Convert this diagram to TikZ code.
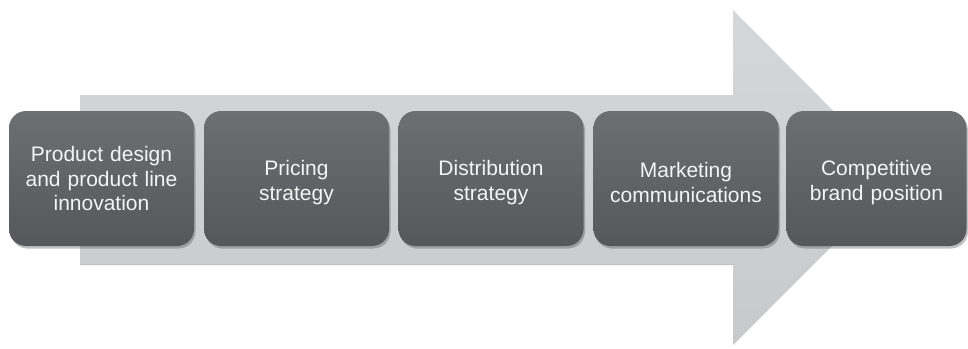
\documentclass[tikz,border=0pt]{standalone}
\usepackage{fontspec}
\setmainfont{Liberation Sans}
\usetikzlibrary{shadows}
\definecolor{arrowtop}{RGB}{214,215,217}
\definecolor{arrowbot}{RGB}{200,201,203}
\definecolor{boxtop}{RGB}{110,111,115}
\definecolor{boxbot}{RGB}{86,87,91}
\definecolor{txt}{RGB}{244,244,244}
\newcommand{\lowered}[2]{\raisebox{-4pt}[\height][\depth]{\parbox{#1}{\centering #2}}}
\tikzset{
  stagebox/.style={rounded corners=17pt, minimum height=135pt, inner sep=0pt,
    top color=boxtop, bottom color=boxbot, draw=none,
    drop shadow={opacity=0.35, shadow xshift=1.5pt, shadow yshift=-2.5pt, fill=black!70},
    text=txt, align=center, font=\fontsize{21}{24.5}\selectfont},
  bigarrow/.style={top color=arrowtop, bottom color=arrowbot, draw=none}
}
\begin{document}
\begin{tikzpicture}[x=1pt,y=-1pt]
\useasboundingbox (0,0) rectangle (968,348);
\fill[white] (0,0) rectangle (968,348);
\path[bigarrow] (80,95) -- (733,95) -- (733,10) -- (900,178) -- (733,345) -- (733,265) -- (80,265) -- cycle;
\draw[black!25, line width=1pt] (80,264) -- (733,264);
\node[stagebox, minimum width=185pt, text width=180pt] (b1) at (101.5,178.5) {Product design\\and product line\\innovation};
\node[stagebox, minimum width=185pt, text width=180pt] (b2) at (296.5,178.5) {\lowered{180pt}{Pricing\\strategy}};
\node[stagebox, minimum width=185pt, text width=180pt] (b3) at (491,178.5) {\lowered{180pt}{Distribution\\strategy}};
\node[stagebox, minimum width=185pt, text width=180pt] (b4) at (686,178.5) {\lowered{180pt}{Marketing\\communications}};
\node[stagebox, minimum width=180pt, text width=176pt] (b5) at (876.5,178.5) {\lowered{176pt}{Competitive\\brand position}};
\end{tikzpicture}
\end{document}
